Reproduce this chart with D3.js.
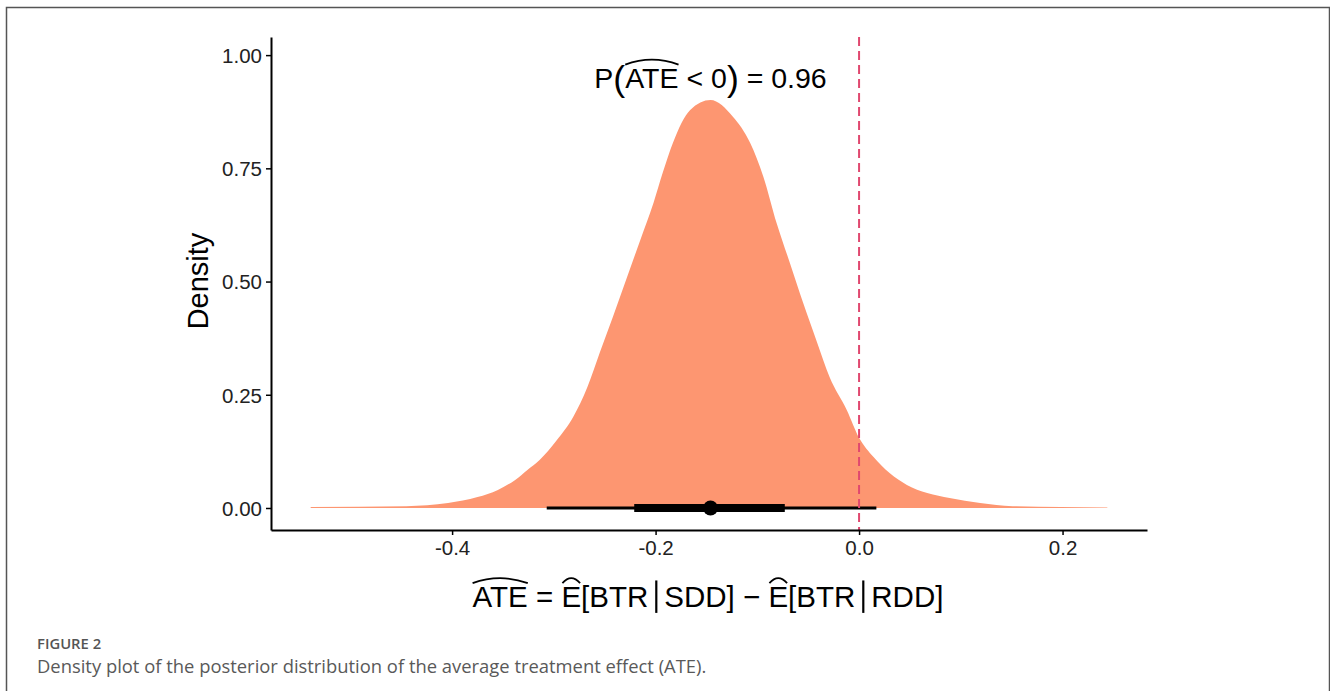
<!DOCTYPE html>
<html>
<head>
<meta charset="utf-8">
<script src="https://cdn.jsdelivr.net/npm/d3@7"></script>
<style>
  body { margin: 0; background: #fff; }
  svg { display: block; }
  .axis text { font-family: "Liberation Sans", Arial, Helvetica, sans-serif; font-size: 20.5px; fill: #222; }
  .axis path, .axis line { stroke: #000; }
  .caption { font-family: "Open Sans", sans-serif; }
</style>
</head>
<body>
<svg id="chart" width="1330" height="691"></svg>
<script>
// posterior density of the ATE
const ateValues = [-0.539, -0.445, -0.404, -0.375, -0.355, -0.338, -0.326, -0.314, -0.297, -0.281,
  -0.267, -0.255, -0.242, -0.228, -0.215, -0.202, -0.193, -0.183, -0.166, -0.146,
  -0.124, -0.107, -0.094, -0.081, -0.068, -0.055, -0.041, -0.029, -0.012, 0.000,
  0.014, 0.030, 0.047, 0.067, 0.089, 0.119, 0.151, 0.198, 0.244]
const densityValues = [0.002, 0.004, 0.011, 0.024, 0.040, 0.062, 0.084, 0.106, 0.150, 0.201,
  0.267, 0.342, 0.422, 0.510, 0.592, 0.674, 0.740, 0.806, 0.879, 0.901,
  0.864, 0.806, 0.731, 0.629, 0.541, 0.453, 0.364, 0.289, 0.216, 0.155,
  0.113, 0.077, 0.051, 0.033, 0.022, 0.011, 0.004, 0.002, 0.001]

// point estimate + intervals
const pointEstimate = -0.146
const innerInterval = [-0.221, -0.073]
const outerInterval = [-0.307, 0.017]
const refLine = 0

const yTicks = [0, 0.25, 0.5, 0.75, 1]
const xTicks = [-0.4, -0.2, 0, 0.2]
const probLabel = "0.96"
const annotPos = [-0.146, 0.928]

const svg = d3.select("#chart")
const font = '"Liberation Sans", Arial, Helvetica, sans-serif'

// outer frame of the figure
svg.append("rect")
  .attr("x", 6.5).attr("y", 7.5)
  .attr("width", 1323).attr("height", 720)
  .attr("fill", "none").attr("stroke", "#555").attr("stroke-width", 1.5)

const xScale = d3.scaleLinear().domain([-0.578, 0.283]).range([271, 1147])
const yScale = d3.scaleLinear().domain([-0.0486, 1.04]).range([530, 37])

const area = d3.area()
  .x((d, i) => xScale(ateValues[i]))
  .y0(yScale(0))
  .y1(d => yScale(d))
  .curve(d3.curveMonotoneX)

svg.append("path")
  .datum(densityValues)
  .attr("d", area)
  .attr("fill", "#fd9671")

// interval lines
svg.append("line")
  .attr("x1", xScale(outerInterval[0])).attr("x2", xScale(outerInterval[1]))
  .attr("y1", yScale(0)).attr("y2", yScale(0))
  .attr("stroke", "#000").attr("stroke-width", 3)
svg.append("line")
  .attr("x1", xScale(innerInterval[0])).attr("x2", xScale(innerInterval[1]))
  .attr("y1", yScale(0)).attr("y2", yScale(0))
  .attr("stroke", "#000").attr("stroke-width", 8)
svg.append("circle")
  .attr("cx", xScale(pointEstimate)).attr("cy", yScale(0))
  .attr("r", 7.5).attr("fill", "#000")

// dashed reference at 0
svg.append("line")
  .attr("x1", xScale(refLine)).attr("x2", xScale(refLine))
  .attr("y1", yScale.range()[1]).attr("y2", yScale.range()[0])
  .attr("stroke", "#e0486f").attr("stroke-width", 2)
  .attr("stroke-dasharray", "9,5")

// axes
const yAxis = svg.append("g")
  .attr("class", "axis")
  .attr("transform", "translate(271,0)")
  .call(d3.axisLeft(yScale).tickValues(yTicks).tickFormat(d3.format(".2f")).tickSize(5).tickSizeOuter(0).tickPadding(4))
yAxis.select(".domain").attr("stroke-width", 2)
yAxis.selectAll(".tick line").attr("stroke-width", 1.5)
yAxis.selectAll(".tick text").attr("dy", "0.36em")

const xAxis = svg.append("g")
  .attr("class", "axis")
  .attr("transform", "translate(0,530)")
  .call(d3.axisBottom(xScale).tickValues(xTicks).tickFormat(d => d.toFixed(1)).tickSize(5).tickSizeOuter(0).tickPadding(5))
xAxis.select(".domain").attr("stroke-width", 2)
xAxis.selectAll(".tick line").attr("stroke-width", 1.5)

// y title
svg.append("text")
  .attr("transform", "translate(208,281) rotate(-90)")
  .attr("text-anchor", "middle")
  .attr("font-family", font).attr("font-size", 29)
  .attr("fill", "#000")
  .text("Density")

// plotmath-ish text: pieces laid out one after another, hats and bars drawn as paths
function mathText(parent, pieces, size, cx, baseline) {
  const g = parent.append("g")
  let x = 0
  pieces.forEach(p => {
    if (p.bar) {
      x += p.gap || 6
      g.append("line")
        .attr("x1", x).attr("x2", x)
        .attr("y1", -size * 0.9).attr("y2", size * 0.2)
        .attr("stroke", "#000").attr("stroke-width", 2.2)
      x += p.gap || 6
      return
    }
    const fs = size * (p.scale || 1)
    const t = g.append("text")
      .attr("x", x).attr("y", p.dy || 0)
      .attr("font-family", font).attr("font-size", fs)
      .attr("fill", "#000")
      .style("white-space", "pre")
      .text(p.t)
    const w = t.node().getComputedTextLength()
    if (p.hat) {
      const top = -size * 0.74
      const rise = p.hat === "wide" ? 5 : 5
      const pad = p.hat === "wide" ? 0 : 1
      g.append("path")
        .attr("d", `M${x + pad},${top - 2} Q${x + w / 2},${top - 2 - rise * 2} ${x + w - pad},${top - 2}`)
        .attr("fill", "none").attr("stroke", "#000").attr("stroke-width", 1.8)
    }
    x += w
  })
  g.attr("transform", `translate(${cx - x / 2},${baseline})`)
  return g
}

mathText(svg, [
  { t: "P" },
  { t: "(", scale: 1.25, dy: 3 },
  { t: "ATE", hat: "wide" },
  { t: " < 0" },
  { t: ")", scale: 1.25, dy: 3 },
  { t: " = " + probLabel }
], 28.5, xScale(annotPos[0]), yScale(annotPos[1]))

mathText(svg, [
  { t: "ATE", hat: "wide" },
  { t: " = " },
  { t: "E", hat: "small" },
  { t: "[BTR" },
  { bar: true, gap: 8 },
  { t: "SDD] \u2212 " },
  { t: "E", hat: "small" },
  { t: "[BTR" },
  { bar: true, gap: 8 },
  { t: "RDD]" }
], 29.5, 708, 607)

// caption
svg.append("text")
  .attr("class", "caption")
  .attr("x", 37).attr("y", 649)
  .attr("font-size", 14.8).attr("font-weight", 600)
  .attr("fill", "#555")
  .text("FIGURE 2")
svg.append("text")
  .attr("class", "caption")
  .attr("x", 37).attr("y", 673)
  .attr("font-size", 18.4)
  .attr("fill", "#595959")
  .text("Density plot of the posterior distribution of the average treatment effect (ATE).")
</script>
</body>
</html>
